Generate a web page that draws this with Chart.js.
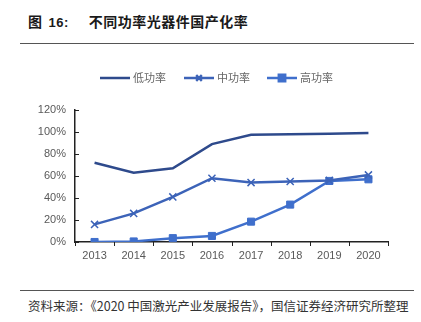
<!DOCTYPE html>
<html>
<head>
<meta charset="utf-8">
<script src="https://cdn.jsdelivr.net/npm/chart.js@4/dist/chart.umd.min.js"></script>
<style>
  body { margin: 0; width: 421px; height: 322px; background: #fff; position: relative; overflow: hidden;
         font-family: "Noto Sans CJK SC", "Liberation Sans", sans-serif; }
  #title { position: absolute; left: 28px; top: 11px; font-size: 14px; font-weight: bold; color: #1a1a1a; white-space: nowrap; letter-spacing: 0.5px; }
  #title .num { font-family: "Liberation Sans", Arial, sans-serif; font-size: 13px; margin-left: 6px; margin-right: 20px; }
  .rule { position: absolute; left: 20px; width: 394px; height: 1px; background: #555; }
  #foot { position: absolute; left: 28px; top: 296px; font-size: 12.5px; color: #333; white-space: nowrap; }
  #wrap { position: absolute; left: 0; top: 50px; width: 421px; height: 235px; }
</style>
</head>
<body>
<div id="title">图<span class="num">16:</span>不同功率光器件国产化率</div>
<div class="rule" style="top:43px"></div>
<div id="wrap"><canvas id="chart"></canvas></div>
<div class="rule" style="top:290px"></div>
<div id="foot">资料来源：《2020 中国激光产业发展报告》，国信证券经济研究所整理</div>
<script>
// dados
const anos = ['2013', '2014', '2015', '2016', '2017', '2018', '2019', '2020'];
const baixaPotencia = [72, 63, 67, 89, 97.5, 98, 98.5, 99];
const mediaPotencia = [16, 26, 41, 58, 54, 55, 56, 61];
const altaPotencia = [0, 0.5, 3.5, 5.5, 18.5, 34, 55.5, 57];
const nomesSeries = ['低功率', '中功率', '高功率'];
const ticksY = [0, 20, 40, 60, 80, 100, 120];

const cores = ['#2E4A8C', '#3C63B8', '#3F6FCC'];
const estilos = [false, 'crossRot', 'rect'];

// legenda e marcas dos eixos desenhadas à mão
const legendaPlugin = {
    id: 'legenda',
    afterDraw(chart) {
        const ctx = chart.ctx;
        const xs = [100, 184, 267];
        const y = 28;
        ctx.save();
        nomesSeries.forEach((nome, i) => {
            const x = xs[i];
            ctx.strokeStyle = cores[i];
            ctx.lineWidth = 2.5;
            ctx.beginPath();
            ctx.moveTo(x, y);
            ctx.lineTo(x + 30, y);
            ctx.stroke();
            if (estilos[i]) {
                Chart.helpers.drawPoint(ctx, {
                    pointStyle: estilos[i], radius: i === 2 ? 4.5 : 4, borderWidth: 1.5
                }, x + 15, y);
                ctx.fillStyle = cores[i];
                if (i === 2) ctx.fillRect(x + 12, y - 3, 6, 6);
            }
            ctx.fillStyle = '#666';
            ctx.font = '11px "Noto Sans CJK SC"';
            ctx.textBaseline = 'middle';
            ctx.fillText(nome, x + 33, y);
        });

        // marcas
        const a = chart.chartArea;
        const sy = chart.scales.y;
        ctx.strokeStyle = '#222';
        ctx.lineWidth = 1;
        ticksY.forEach(v => {
            const py = Math.round(sy.getPixelForValue(v)) + 0.5;
            ctx.beginPath();
            ctx.moveTo(a.left, py);
            ctx.lineTo(a.left + 4, py);
            ctx.stroke();
        });
        for (let i = 0; i <= anos.length; i++) {
            const px = Math.round(a.left + (a.right - a.left) * i / anos.length) + 0.5;
            ctx.beginPath();
            ctx.moveTo(px, a.bottom);
            ctx.lineTo(px, a.bottom + 4);
            ctx.stroke();
        }
        ctx.restore();
    }
};

const valores = [baixaPotencia, mediaPotencia, altaPotencia];

new Chart(document.getElementById('chart'), {
    type: 'line',
    data: {
        labels: anos,
        datasets: valores.map((dados, i) => ({
            label: nomesSeries[i],
            data: dados,
            borderColor: cores[i],
            backgroundColor: cores[i],
            borderWidth: 2.5,
            pointStyle: estilos[i] || 'circle',
            pointRadius: estilos[i] ? 5 : 0,
            pointBorderWidth: i === 1 ? 1.5 : 1,
            tension: 0
        }))
    },
    options: {
        responsive: true,
        maintainAspectRatio: false,
        animation: false,
        layout: { padding: { top: 60, right: 33, left: 0, bottom: 0 } },
        plugins: { legend: { display: false }, tooltip: { enabled: false } },
        scales: {
            x: {
                offset: true,
                grid: { display: false, drawTicks: false },
                border: { color: '#222', width: 1.5 },
                ticks: { color: '#595959', font: { size: 11, family: '"Liberation Sans", Arial' }, padding: 7, maxRotation: 0 },
                afterFit(scale) { scale.height = 43; }
            },
            y: {
                min: 0,
                max: 120,
                afterBuildTicks(scale) { scale.ticks = ticksY.map(v => ({ value: v })); },
                grid: { display: false, drawTicks: false },
                border: { color: '#222', width: 1.5 },
                ticks: {
                    color: '#595959',
                    font: { size: 11, family: '"Liberation Sans", Arial' },
                    padding: 9,
                    callback: v => v + '%'
                },
                afterFit(scale) { scale.width = 75; }
            }
        }
    },
    plugins: [legendaPlugin]
});
</script>
</body>
</html>
